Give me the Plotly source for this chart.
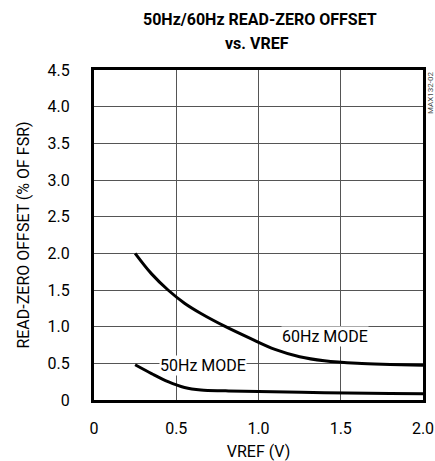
import plotly.graph_objects as go

vref_60 = [0.25, 0.35, 0.45, 0.55, 0.65, 0.8, 0.95, 1.1, 1.25, 1.4, 1.6, 1.8, 2.0]
off_60 = [2.0, 1.72, 1.5, 1.32, 1.18, 1.0, 0.84, 0.69, 0.59, 0.535, 0.5, 0.485, 0.475]
vref_50 = [0.25, 0.35, 0.45, 0.55, 0.65, 0.8, 1.0, 1.4, 1.8, 2.0]
off_50 = [0.48, 0.36, 0.25, 0.17, 0.135, 0.125, 0.115, 0.1, 0.09, 0.085]

x_ticks = [0, 0.5, 1.0, 1.5, 2.0]
x_labels = ["0", "0.5", "1.0", "1.5", "2.0"]
y_ticks = [0, 0.5, 1.0, 1.5, 2.0, 2.5, 3.0, 3.5, 4.0, 4.5]
y_labels = ["0", "0.5", "1.0", "1.5", "2.0", "2.5", "3.0", "3.5", "4.0", "4.5"]

title_lines = ["50Hz/60Hz READ-ZERO OFFSET", "vs. VREF"]

font_main = "Roboto, Liberation Sans, Arial, sans-serif"

fig = go.Figure()
fig.add_trace(go.Scatter(x=vref_60, y=off_60, mode="lines",
                         line=dict(color="black", width=3, shape="spline"),
                         showlegend=False, hoverinfo="skip"))
fig.add_trace(go.Scatter(x=vref_50, y=off_50, mode="lines",
                         line=dict(color="black", width=3, shape="spline"),
                         showlegend=False, hoverinfo="skip"))

fig.add_annotation(x=1.405, y=0.87, text="60Hz MODE", showarrow=False,
                   font=dict(family=font_main, size=16, color="black"),
                   bgcolor="white", borderpad=0)
fig.add_annotation(x=0.665, y=0.47, text="50Hz MODE", showarrow=False,
                   font=dict(family=font_main, size=16, color="black"),
                   bgcolor="white", borderpad=0)
fig.add_annotation(xref="paper", yref="paper", x=1.0, y=1.0, xshift=7,
                   text="MAX132-02", textangle=-90, showarrow=False,
                   xanchor="center", yanchor="top",
                   font=dict(family=font_main, size=8, color="#444"))

# title as two separate lines for line spacing control
for i, (line, shift) in enumerate(zip(title_lines, [51, 27])):
    fig.add_annotation(xref="paper", yref="paper", x=0.5, y=1.0, yshift=shift,
                       xshift=1 if i == 0 else -2,
                       text="<b>" + line + "</b>", showarrow=False,
                       xanchor="center", yanchor="middle",
                       font=dict(family="Roboto, sans-serif", size=16, color="black"))

fig.update_layout(
    width=435, height=461,
    margin=dict(l=94, r=12, t=70, b=61, autoexpand=False),
    paper_bgcolor="white", plot_bgcolor="white",
    xaxis=dict(range=[0, 2.0], tickvals=x_ticks, ticktext=x_labels,
               showgrid=True, gridcolor="#555", gridwidth=1,
               showline=True, linecolor="black", linewidth=3, mirror=True,
               ticks="", zeroline=False, automargin=False, ticklabelstandoff=12,
               tickfont=dict(family=font_main, size=16, color="black"),
               title=dict(text="VREF (V)", font=dict(family=font_main, size=16, color="black"),
                          standoff=14)),
    yaxis=dict(range=[0, 4.5], tickvals=y_ticks, ticktext=y_labels,
               showgrid=True, gridcolor="#555", gridwidth=1,
               showline=True, linecolor="black", linewidth=3, mirror=True,
               ticks="", zeroline=False, automargin=False, ticklabelstandoff=18,
               tickfont=dict(family=font_main, size=16, color="black"),
               title=dict(text="READ-ZERO OFFSET (% OF FSR)",
                          font=dict(family=font_main, size=16, color="black"),
                          standoff=14)),
)

fig.write_html("out.html", config={"displayModeBar": False},
               post_script="document.body.style.margin='0';document.body.style.overflow='hidden';")
